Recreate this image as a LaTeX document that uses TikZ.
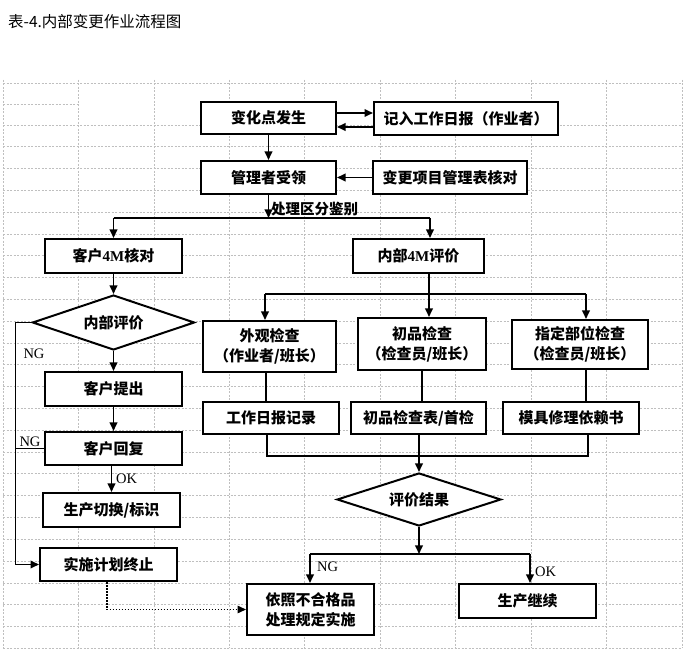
\documentclass[tikz,border=0pt]{standalone}
\usepackage{fontspec}
\setmainfont{Liberation Serif}
\newfontfamily\cjk{Noto Sans CJK SC}
\usetikzlibrary{arrows.meta,shapes.geometric}
\newcommand\C[1]{{\cjk #1}}
\begin{document}
\begin{tikzpicture}[x=1pt,y=-1pt,
  gridl/.style={draw=black!25, line width=0.6pt, dash pattern=on 2pt off 1.5pt},
  box/.style={draw, line width=2pt, fill=white, rectangle, inner sep=0pt,
    font=\bfseries\fontsize{15}{20}\selectfont, align=center},
  dia/.style={draw, line width=2pt, fill=white, diamond, shape aspect=3, inner sep=0pt,
    font=\bfseries\fontsize{15}{20}\selectfont},
  conn/.style={line width=1.5pt},
  arr/.style={line width=1.8pt, -{Triangle[length=8.5pt,width=7.5pt]}},
  dotarr/.style={line width=1.5pt, dash pattern=on 1.5pt off 1.5pt, -{Triangle[length=8.5pt,width=7.5pt]}},
  lbl/.style={inner sep=0pt, font=\fontsize{14.5}{17}\selectfont},
  blbl/.style={inner sep=0pt, font=\bfseries\fontsize{14.5}{17}\selectfont}]
\useasboundingbox (0,0) rectangle (689,660);
\fill[white] (0,0) rectangle (689,660);
% grid
\foreach \i in {0,...,9} \draw[gridl] ({3+75.44*\i},80) -- ({3+75.44*\i},648);
\draw[gridl] (3,83) -- (682,83);
\draw[gridl] (3,104) -- (78,104);
\foreach \k in {0,...,24} \draw[gridl] (3,{125+21.8*\k}) -- (682,{125+21.8*\k});
% title
\node[anchor=west, inner sep=0pt, font=\fontsize{15.5}{18}\selectfont] (title) at (8,22) {\C{表-4.内部变更作业流程图}};
% boxes
\node[box, minimum width=135pt, minimum height=32pt] (chg) at (268.5,118) {\C{变化点发生}};
\node[box, minimum width=184pt, minimum height=33pt] (rec) at (466,118.5) {\C{记入工作日报（作业者）}};
\node[box, minimum width=135pt, minimum height=33pt] (mgr) at (268.5,177.5) {\C{管理者受领}};
\node[box, minimum width=154pt, minimum height=33pt] (chk) at (450,177.5) {\C{变更项目管理表核对}};
\node[box, minimum width=137pt, minimum height=34pt] (c4m) at (113.5,256) {\C{客户}4M\C{核对}};
\node[box, minimum width=131pt, minimum height=34pt] (i4m) at (418.5,256) {\C{内部}4M\C{评价}};
\node[dia, minimum width=162pt, minimum height=55pt] (ieval) at (113.5,322.5) {\C{内部评价}};
\node[box, minimum width=137pt, minimum height=34pt] (csub) at (113.5,389) {\C{客户提出}};
\node[box, minimum width=137pt, minimum height=33pt] (crep) at (113.5,448.5) {\C{客户回复}};
\node[box, minimum width=137pt, minimum height=34pt] (swit) at (111.5,510) {\C{生产切换/标识}};
\node[box, minimum width=137pt, minimum height=33pt] (stop) at (108.5,564.5) {\C{实施计划终止}};
\node[box, minimum width=133pt, minimum height=51pt] (vis) at (269.5,346.5) {\C{外观检查}\\\C{（作业者/班长）}};
\node[box, minimum width=128pt, minimum height=52pt] (first) at (422,344) {\C{初品检查}\\\C{（检查员/班长）}};
\node[box, minimum width=136pt, minimum height=49pt] (spec) at (580,344.5) {\C{指定部位检查}\\\C{（检查员/班长）}};
\node[box, minimum width=136pt, minimum height=32pt] (wrk) at (271,418) {\C{工作日报记录}};
\node[box, minimum width=135pt, minimum height=32pt] (fch) at (418.5,418) {\C{初品检查表/首检}};
\node[box, minimum width=136pt, minimum height=32pt] (mold) at (571,418) {\C{模具修理依赖书}};
\node[dia, minimum width=164pt, minimum height=53pt] (res) at (419,499.5) {\C{评价结果}};
\node[box, minimum width=127pt, minimum height=51pt] (ng) at (310.5,609.5) {\C{依照不合格品}\\\C{处理规定实施}};
\node[box, minimum width=137pt, minimum height=34pt] (cont) at (527.5,601) {\C{生产继续}};
% top connectors
\draw[arr] ([yshift=5pt]chg.east) -- ([yshift=5.5pt]rec.west);
\draw[arr] ([yshift=-8.5pt]rec.west) -- ([yshift=-9pt]chg.east);
\draw[arr] (chg.south) -- (mgr.north);
\draw[arr] (chk.west) -- (mgr.east);
\coordinate (j1) at (268.5,218);
\coordinate (j1l) at (113.5,218);
\coordinate (j1r) at (430,218);
\draw[arr] (mgr.south) -- (j1);
\node[blbl, anchor=west] (l1) at (271,209) {\C{处理区分鉴别}};
\draw[conn] (j1l) -- (j1r);
\draw[arr] (j1l) -- (c4m.north);
\draw[arr] (j1r) -- (j1r |- i4m.north);
% left branch
\draw[arr] (c4m.south) -- (ieval.north);
\draw[arr] (ieval.south) -- (csub.north);
\draw[arr] (csub.south) -- (crep.north);
\draw[arr] (crep.south -| swit.north) -- (swit.north);
\node[lbl, anchor=west] (okl) at (116,479) {OK};
\draw[arr] (ieval.west) -- ++(-16,0) |- (stop.west);
\node[lbl] (ng1) at (34,354) {NG};
\draw[conn] (crep.west) -- ++(-28,0);
\node[lbl] (ng2) at (30,442) {NG};
\coordinate (xd) at (107,0);
\draw[dotarr] (stop.south -| xd) |- (ng.west);
% right branch
\coordinate (j2) at (429,294);
\coordinate (j2l) at (265,294);
\coordinate (j2r) at (586,294);
\draw[conn] (i4m.south -| j2) -- (j2);
\draw[conn] (j2l) -- (j2r);
\draw[arr] (j2) -- (j2 |- first.north);
\draw[arr] (j2l) -- (j2l |- vis.north);
\draw[arr] (j2r) -- (j2r |- spec.north);
\coordinate (xv) at (266,0);
\coordinate (xs) at (586,0);
\draw[conn] (vis.south -| xv) -- (wrk.north -| xv);
\draw[conn] (first.south) -- (first.south |- fch.north);
\draw[conn] (spec.south -| xs) -- (mold.north -| xs);
\coordinate (j3l) at (267,456);
\coordinate (j3r) at (588,456);
\coordinate (j3m) at (419,456);
\draw[conn] (j3l |- wrk.south) -- (j3l) -- (j3r) -- (j3r |- mold.south);
\draw[conn] (j3m |- fch.south) -- (j3m);
\draw[arr] (j3m) -- (res.north);
\coordinate (j4) at (419,554);
\coordinate (j4l) at (310,554);
\coordinate (j4r) at (530,554);
\draw[arr] (res.south) -- (j4);
\draw[conn] (j4l) -- (j4r);
\draw[arr] (j4l) -- (j4l |- ng.north);
\draw[arr] (j4r) -- (j4r |- cont.north);
\node[lbl, anchor=west] (ng3) at (317,567) {NG};
\node[lbl, anchor=west] (ok2) at (535,572) {OK};
\end{tikzpicture}
\end{document}
